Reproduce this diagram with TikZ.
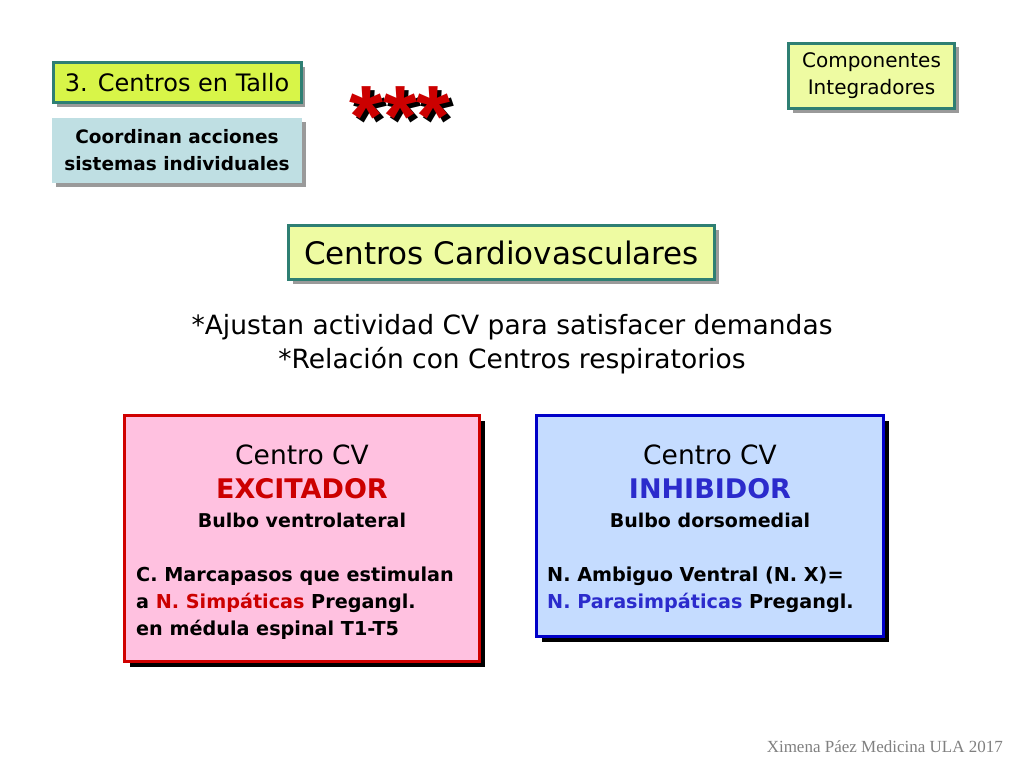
\documentclass[tikz,border=0pt]{standalone}
\usepackage{fontspec}
\setmainfont{DejaVu Sans}
\newfontfamily\footfont{Liberation Serif}
\newfontfamily\starfont{Liberation Sans}
\usetikzlibrary{positioning,shadows}
\definecolor{tealline}{HTML}{2E7F73}
\definecolor{lime}{HTML}{D8F548}
\definecolor{palelime}{HTML}{EEFBA2}
\definecolor{icy}{HTML}{BFDFE3}
\definecolor{rose}{HTML}{FFC1E0}
\definecolor{redline}{HTML}{D00000}
\definecolor{sky}{HTML}{C5DCFF}
\definecolor{blueline}{HTML}{0000C8}
\definecolor{exred}{HTML}{CC0000}
\definecolor{inblue}{HTML}{2B2BCC}
\definecolor{greyshade}{HTML}{9A9A9A}
\definecolor{footgrey}{HTML}{808080}
\tikzset{
  tag/.style={draw=tealline,line width=3pt,fill=palelime,inner sep=0pt,align=center,
    drop shadow={shadow xshift=4pt,shadow yshift=-4pt,fill=greyshade,opacity=1}},
  taga/.style={tag,fill=lime},
  note/.style={fill=icy,inner sep=0pt,align=center,
    drop shadow={shadow xshift=4pt,shadow yshift=-4pt,fill=greyshade,opacity=1}},
  centre/.style={line width=3pt,inner sep=0pt,
    drop shadow={shadow xshift=5pt,shadow yshift=-5pt,fill=black,opacity=1}},
  head/.style={align=center,inner sep=0pt,font=\fontsize{26.5}{26.5}\selectfont},
  kind/.style={align=center,inner sep=0pt,font=\bfseries\fontsize{27}{27}\selectfont},
  site/.style={align=center,inner sep=0pt,font=\bfseries\fontsize{19}{19}\selectfont},
  detail/.style={align=left,anchor=north west,inner sep=0pt,font=\bfseries\fontsize{19.2}{27}\selectfont},
}
\newcommand\shadowed[1]{\rlap{\hspace{4pt}\raisebox{-4pt}{\textcolor{black}{#1}}}\textcolor{exred}{#1}}
\begin{document}
\begin{tikzpicture}[x=1pt,y=-1pt]
  \useasboundingbox[fill=white] (0,0) rectangle (1024,768);
  % top left
  \node[taga,minimum width=248,minimum height=40,font=\fontsize{24}{24}\selectfont] (tallo) at (177,82.5) {3. Centros en Tallo};
  \node[note,minimum width=250,minimum height=65,font=\bfseries\fontsize{18.5}{27}\selectfont] (coord) at (177,150.5) {Coordinan acciones\\sistemas individuales};
  % stars
  \node[font=\starfont\bfseries\fontsize{87}{87}\selectfont,inner sep=0pt] (stars) at (400,119) {\shadowed{***}};
  % top right
  \node[tag,minimum width=166,minimum height=65,font=\fontsize{20}{27}\selectfont] (comp) at (871.5,76) {Componentes\\Integradores};
  % title
  \node[tag,minimum width=426,minimum height=54,font=\fontsize{31}{31}\selectfont] (cardio) at (501.5,252.5) {Centros Cardiovasculares};
  \node[align=center,inner sep=0pt,font=\fontsize{26.5}{34}\selectfont] (aims) at (512,344) {*Ajustan actividad CV para satisfacer demandas\\*Relación con Centros respiratorios};
  % excitatory centre
  \node[centre,draw=redline,fill=rose,minimum width=355,minimum height=246] (exc) at (302,538.5) {};
  \node[head] (exc1) at (302,455) {Centro CV};
  \node[kind,text=exred] (exc2) at (302,489) {EXCITADOR};
  \node[site] (exc3) at (302,520) {Bulbo ventrolateral};
  \node[detail] (exc4) at (136,567) {C. Marcapasos que estimulan\\a \textcolor{exred}{N. Simpáticas} Pregangl.\\en médula espinal T1-T5};
  % inhibitory centre
  \node[centre,draw=blueline,fill=sky,minimum width=347,minimum height=221] (inh) at (710,526) {};
  \node[head] (inh1) at (710,455) {Centro CV};
  \node[kind,text=inblue] (inh2) at (710,489) {INHIBIDOR};
  \node[site] (inh3) at (710,520) {Bulbo dorsomedial};
  \node[detail] (inh4) at (547,567) {N. Ambiguo Ventral (N. X)=\\\textcolor{inblue}{N. Parasimpáticas} Pregangl.};
  % footer
  \node[anchor=east,inner sep=0pt,text=footgrey,font=\footfont\fontsize{17}{17}\selectfont] (foot) at (1003,747) {Ximena Páez Medicina ULA 2017};
\end{tikzpicture}
\end{document}
